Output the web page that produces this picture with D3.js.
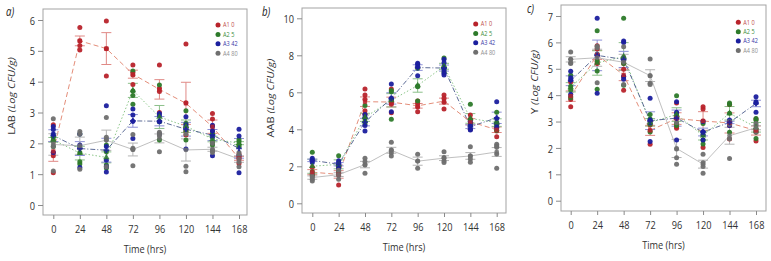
<!DOCTYPE html>
<html>
<head>
<meta charset="utf-8">
<script src="https://cdn.jsdelivr.net/npm/d3@7"></script>
<style>
  body { margin: 0; background: #fff; }
  svg { display: block; font-family: "Open Sans", sans-serif; }
</style>
</head>
<body>
<svg id="chart" width="771" height="261"></svg>
<script>
// sampling times (hrs) and treatment groups
const times = [0, 24, 48, 72, 96, 120, 144, 168];
const groups = ["A1 0", "A2 5", "A3 42", "A4 80"];

// replicate readings per time point, LAB
const labA1 = [[2.6, 1.7, 1.6, 1.05], [5.76, 5.33, 5.17, 5.03], [5.97, 5.07, 4.18], [4.54, 4.3, 4.22, 3.91], [4.54, 3.78, 3.68, 3.0], [5.22, 3.32, 2.38, 2.27], [2.97, 2.79, 2.4, 2.0], [1.65, 1.55, 1.5, 1.35]];
const labA2 = [[2.25, 2.2, 2.1, 1.9], [2.3, 1.7, 1.4, 1.33], [1.95, 1.73, 1.3, 1.2], [4.35, 3.7, 3.55, 3.27], [3.89, 2.72, 2.7, 2.11], [3.06, 2.65, 2.4, 2.11], [2.3, 2.29, 2.02, 1.95], [2.12, 2.05, 1.95, 1.9]];
const labA3 = [[2.55, 2.45, 2.3, 1.7], [2.3, 1.95, 1.85, 1.22], [3.22, 1.9, 1.45, 1.25, 1.07], [3.11, 2.92, 2.72, 2.16], [2.97, 2.9, 2.7, 2.3], [2.86, 2.6, 2.55, 1.82], [2.59, 2.55, 2.4, 2.2, 1.6], [2.46, 2.24, 1.6, 1.05]];
const labA4 = [[2.8, 2.05, 1.9, 1.1], [2.38, 2.3, 1.85, 1.16], [2.84, 2.2, 2.12, 1.24], [2.29, 1.84, 1.8, 1.27], [2.36, 2.3, 2.25, 1.73], [2.5, 2.3, 1.26, 1.08], [2.0, 1.78, 1.75, 1.7], [1.7, 1.62, 1.4, 1.24]];

// AAB
const aabA1 = [[1.95, 1.6, 1.5], [1.95, 1.7, 1.6, 0.99], [6.18, 5.85, 5.62, 4.81, 5.0], [6.18, 5.46, 5.35, 4.9], [5.53, 5.4, 5.2, 4.95], [5.85, 5.68, 5.46, 5.1], [4.77, 4.56, 4.3, 4.0], [4.3, 4.09, 3.91, 3.6]];
const aabA2 = [[2.76, 1.7, 1.55], [2.57, 2.0, 1.75], [5.28, 4.6, 4.41, 4.3], [6.1, 6.03, 5.6, 4.54], [7.3, 6.34, 6.3, 5.53], [7.85, 7.38, 7.3, 7.1], [5.35, 4.5, 4.3, 4.2], [4.92, 4.38, 4.2, 3.95]];
const aabA3 = [[2.43, 2.33, 2.2], [2.3, 2.2, 2.06, 1.89], [4.8, 4.65, 4.2, 3.91], [6.45, 5.68, 5.6, 4.95], [7.57, 7.5, 7.38, 6.9], [7.78, 7.6, 7.2, 7.03, 6.94], [4.4, 4.2, 4.0, 3.96], [5.49, 4.59, 4.3, 4.1]];
const aabA4 = [[1.62, 1.44, 1.3, 1.2], [1.78, 1.62, 1.5, 1.3], [2.43, 2.25, 2.07, 1.62], [3.3, 2.88, 2.73, 2.56], [2.65, 2.29, 1.89], [2.79, 2.47, 2.3, 2.2], [3.06, 2.56, 2.4, 2.22], [3.19, 3.1, 3.03, 2.66, 1.89]];

// Y (yeasts)
const yA1 = [[4.5, 3.95, 3.84, 3.56], [5.87, 5.75, 5.27, 5.2], [5.2, 4.98, 4.7, 4.19], [3.0, 2.87, 2.65, 2.14], [3.7, 3.2, 2.8, 2.75], [3.56, 3.48, 3.02, 2.02], [3.65, 2.85, 2.34], [3.1, 2.68, 2.6, 2.26]];
const yA2 = [[4.75, 4.34, 4.2, 3.9], [6.44, 5.3, 4.92, 4.22], [6.91, 5.36, 5.2, 4.38], [3.27, 3.1, 2.9, 2.6], [3.98, 3.3, 2.93, 2.85], [2.93, 2.5, 2.3, 2.15], [3.7, 3.65, 3.31, 2.59], [3.12, 3.05, 2.6, 2.36]];
const yA3 = [[4.91, 4.66, 4.58, 4.03], [6.91, 5.55, 5.5, 4.07], [6.05, 6.0, 5.4, 4.72, 4.6], [3.88, 3.06, 2.95, 2.24], [3.75, 3.35, 3.12, 2.3], [3.0, 2.61, 2.5, 2.3], [3.06, 3.0, 2.95, 2.85], [3.94, 3.75, 3.7, 3.35]];
const yA4 = [[5.64, 5.36, 5.23, 5.2], [5.85, 5.8, 5.55, 4.47], [5.83, 5.45, 5.3, 4.4], [5.37, 4.74, 4.45, 4.4], [2.95, 1.96, 1.63, 1.38], [1.76, 1.44, 1.3, 1.04], [3.0, 2.9, 2.35, 1.6], [2.93, 2.85, 2.68, 2.6]];

const labTicks = [0, 1, 2, 3, 4, 5, 6];
const aabTicks = [0, 2, 4, 6, 8, 10];
const yTicks = [0, 1, 2, 3, 4, 5, 6, 7];

// styles per group
const dotColor = ["#b8232b", "#2d7a2a", "#1b1f9e", "#6f6f6f"];
const textColor = ["#c0504d", "#3f8f3c", "#3a3aa8", "#8f8f8f"];
const barColor = ["#e08a86", "#8cc08a", "#8c8fd6", "#b4b4b4"];
const lineColor = ["#e0806a", "#7fbf7c", "#4a5a8a", "#b8b8b8"];
const dash = ["5,3", "1.5,2", "5,2,1,2", null];
const meanSymbol = [d3.symbolSquare, d3.symbolTriangle, d3.symbolCross, d3.symbolCircle];

const SX = 0.8; // narrow text

const panels = [
  { tag: "a)", name: "LAB", series: [labA1, labA2, labA3, labA4], ticks: labTicks,
    frame: [43, 9, 247, 215], xr: [53.3, 239], yr: [205, 20],
    tagPos: [6, 16], titleX: 15, titleY: 96, legend: [218, 25] },
  { tag: "b)", name: "AAB", series: [aabA1, aabA2, aabA3, aabA4], ticks: aabTicks,
    frame: [302, 8, 506, 213], xr: [312.3, 496.7], yr: [203.3, 18.3],
    tagPos: [262, 16], titleX: 274, titleY: 98, legend: [475.7, 24] },
  { tag: "c)", name: "Y", series: [yA1, yA2, yA3, yA4], ticks: yTicks,
    frame: [561, 5, 766, 211], xr: [570.7, 756], yr: [200.7, 16],
    tagPos: [527, 13], titleX: 538, titleY: 82, legend: [738.3, 22.3] }
];

const svg = d3.select("#chart");

panels.forEach(p => {
  const [fx0, fy0, fx1, fy1] = p.frame;
  const x = d3.scaleLinear().domain([0, 168]).range(p.xr);
  const y = d3.scaleLinear().domain([0, d3.max(p.ticks)]).range(p.yr);
  const g = svg.append("g");

  // frame
  g.append("rect")
    .attr("x", fx0).attr("y", fy0)
    .attr("width", fx1 - fx0).attr("height", fy1 - fy0)
    .attr("fill", "none").attr("stroke", "#a3a3a3");

  // axes
  const xAxis = d3.axisBottom(x).tickValues(times).tickSize(4).tickPadding(6).tickFormat(d3.format("d"));
  const yAxis = d3.axisLeft(y).tickValues(p.ticks).tickSize(5).tickPadding(3).tickFormat(d3.format("d"));

  const xg = g.append("g").attr("transform", `translate(0,${fy1})`).call(xAxis);
  const yg = g.append("g").attr("transform", `translate(${fx0},0)`).call(yAxis);
  [xg, yg].forEach(a => {
    a.select(".domain").remove();
    a.selectAll(".tick line").attr("stroke", "#8a8a8a");
    a.selectAll(".tick text")
      .attr("fill", "#333").style("font-size", "11.5px").style("font-family", "Open Sans");
  });
  xg.selectAll(".tick text").attr("transform", `scale(${SX},1)`);
  yg.selectAll(".tick text").attr("x", -8 / SX).attr("dy", "0.36em").attr("transform", `scale(${SX},1)`);

  // axis titles
  g.append("text")
    .attr("transform", `translate(${(fx0 + fx1) / 2},${fy1 + 38}) scale(${SX},1)`)
    .attr("text-anchor", "middle")
    .attr("fill", "#333").style("font-size", "11.5px")
    .text("Time (hrs)");

  const yt = g.append("text")
    .attr("transform", `translate(${p.titleX},${p.titleY}) rotate(-90) scale(1,${SX})`)
    .attr("text-anchor", "middle")
    .attr("fill", "#333").style("font-size", "11px");
  yt.append("tspan").text(p.name + " ");
  yt.append("tspan").style("font-style", "italic").text("(Log CFU/g)");

  g.append("text")
    .attr("transform", `translate(${p.tagPos[0]},${p.tagPos[1]}) scale(${SX},1)`)
    .attr("fill", "#222").style("font-size", "12px").style("font-style", "italic")
    .text(p.tag);

  // summary per group: mean and standard error
  const stats = p.series.map(s => s.map((vals, i) => {
    const m = d3.mean(vals);
    const se = d3.deviation(vals) / Math.sqrt(vals.length);
    return { t: times[i], m, se };
  }));

  const line = d3.line().x(d => x(d.t)).y(d => y(d.m));

  // mean lines
  stats.forEach((st, k) => {
    g.append("path")
      .datum(st)
      .attr("d", line)
      .attr("fill", "none")
      .attr("stroke", lineColor[k])
      .attr("stroke-width", 0.9)
      .attr("stroke-dasharray", dash[k]);
  });

  // error bars
  stats.forEach((st, k) => {
    const eb = g.append("g").attr("stroke", barColor[k]).attr("stroke-width", 1);
    eb.selectAll(".v").data(st).join("line")
      .attr("x1", d => x(d.t)).attr("x2", d => x(d.t))
      .attr("y1", d => y(d.m - d.se)).attr("y2", d => y(d.m + d.se));
    eb.selectAll(".top").data(st).join("line")
      .attr("x1", d => x(d.t) - 5).attr("x2", d => x(d.t) + 5)
      .attr("y1", d => y(d.m + d.se)).attr("y2", d => y(d.m + d.se));
    eb.selectAll(".bot").data(st).join("line")
      .attr("x1", d => x(d.t) - 5).attr("x2", d => x(d.t) + 5)
      .attr("y1", d => y(d.m - d.se)).attr("y2", d => y(d.m - d.se));
  });

  // replicate points
  p.series.forEach((s, k) => {
    const pts = s.flatMap((vals, i) => vals.map(v => ({ t: times[i], v })));
    g.append("g").selectAll("circle").data(pts).join("circle")
      .attr("cx", d => x(d.t))
      .attr("cy", d => y(d.v))
      .attr("r", 2.5)
      .attr("fill", dotColor[k])
      .attr("opacity", 0.95);
  });

  // mean markers
  stats.forEach((st, k) => {
    g.append("g").selectAll("path").data(st).join("path")
      .attr("transform", d => `translate(${x(d.t)},${y(d.m)})`)
      .attr("d", d3.symbol(meanSymbol[k], 18))
      .attr("fill", dotColor[k])
      .attr("opacity", 0.85);
  });

  // legend
  const lg = g.append("g").attr("transform", `translate(${p.legend[0]},${p.legend[1]})`);
  groups.forEach((name, k) => {
    lg.append("circle").attr("cx", 0).attr("cy", k * 9.4).attr("r", 2.5).attr("fill", dotColor[k]);
    lg.append("text")
      .attr("transform", `translate(5,${k * 9.4 + 2.3}) scale(${SX},1)`)
      .attr("fill", textColor[k]).style("font-size", "7px")
      .text(name);
  });
});
</script>
</body>
</html>
